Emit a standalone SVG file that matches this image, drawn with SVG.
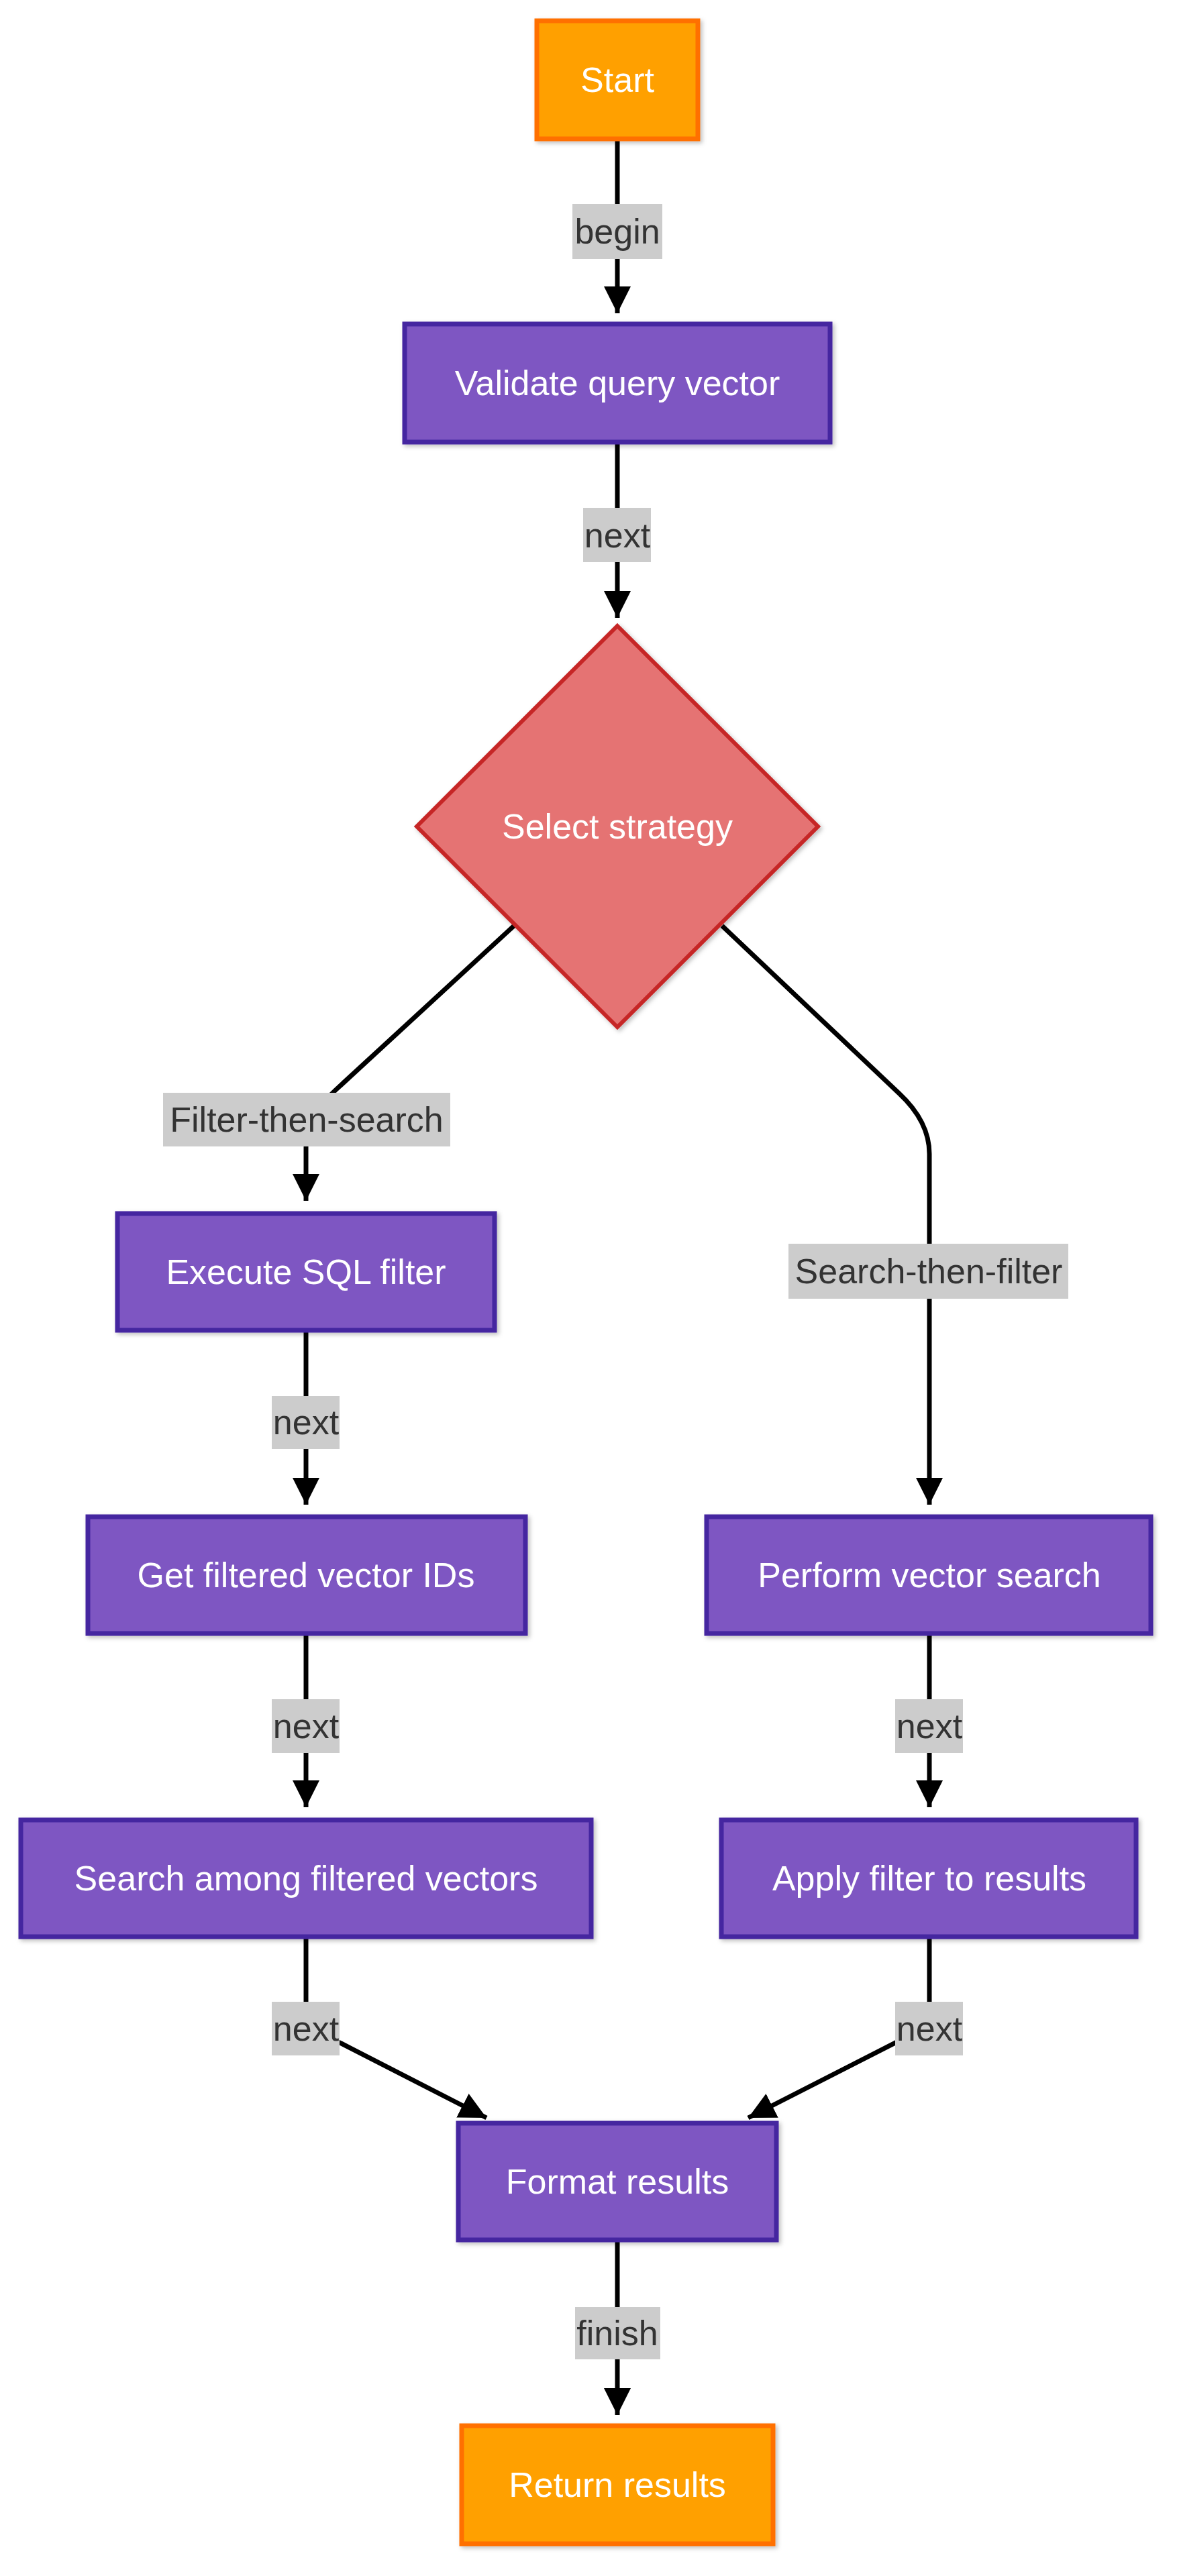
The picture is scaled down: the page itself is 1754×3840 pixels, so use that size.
<svg xmlns="http://www.w3.org/2000/svg" width="1754" height="3840" viewBox="0 0 1754 3840">
<defs>
<marker id="arr" viewBox="0 0 10 10" refX="10" refY="5" markerWidth="40" markerHeight="40" markerUnits="userSpaceOnUse" orient="auto"><path d="M0,0 L10,5 L0,10 z" fill="#000"/></marker>
<filter id="sh" x="-10%" y="-10%" width="130%" height="130%"><feDropShadow dx="3" dy="3" stdDeviation="3" flood-color="#000" flood-opacity="0.25"/></filter>
</defs>
<style>
.term{fill:#FFA000;stroke:#FF6F00;stroke-width:7;filter:url(#sh)}
.proc{fill:#7E57C2;stroke:#4527A0;stroke-width:7;filter:url(#sh)}
.dec{fill:#E57373;stroke:#C62828;stroke-width:6;filter:url(#sh)}
.nt{font-family:"Liberation Sans",Arial,sans-serif;font-size:52px;fill:#fff;text-anchor:middle;dominant-baseline:central}
.e{fill:none;stroke:#000;stroke-width:7;marker-end:url(#arr)}
.lb{fill:#CCCCCC}
.lt{font-family:"Liberation Sans",Arial,sans-serif;font-size:52px;fill:#333;text-anchor:middle;dominant-baseline:central}
</style>
<rect width="1754" height="3840" fill="#fff"/>
<g id="connectors">
<path class="e" d="M920,209 L920,467"/>
<path class="e" d="M920,661 L920,921"/>
<path class="e" d="M766,1380 L500,1625 Q456,1665 456,1710 L456,1790"/>
<path class="e" d="M1076,1380 L1340,1630 Q1385,1672 1385,1720 L1385,2243"/>
<path class="e" d="M456,1983 L456,2243"/>
<path class="e" d="M456,2436 L456,2694"/>
<path class="e" d="M1385,2436 L1385,2694"/>
<path class="e" d="M456,2889 L456,2995 Q456,3022 485,3034 L725,3157"/>
<path class="e" d="M1385,2889 L1385,2995 Q1385,3022 1356,3034 L1115,3157"/>
<path class="e" d="M920,3340 L920,3600"/>
<rect class="lb" x="853" y="304" width="134" height="82"/><text class="lt" x="920" y="345">begin</text>
<rect class="lb" x="869" y="757" width="101" height="81"/><text class="lt" x="920" y="798">next</text>
<rect class="lb" x="243" y="1629" width="428" height="80"/><text class="lt" x="457" y="1669">Filter-then-search</text>
<rect class="lb" x="1175" y="1854" width="417" height="82"/><text class="lt" x="1384" y="1895">Search-then-filter</text>
<rect class="lb" x="405" y="2081" width="101" height="79"/><text class="lt" x="456" y="2120">next</text>
<rect class="lb" x="405" y="2533" width="101" height="80"/><text class="lt" x="456" y="2573">next</text>
<rect class="lb" x="1334" y="2533" width="101" height="80"/><text class="lt" x="1385" y="2573">next</text>
<rect class="lb" x="405" y="2984" width="101" height="80"/><text class="lt" x="456" y="3024">next</text>
<rect class="lb" x="1334" y="2984" width="101" height="80"/><text class="lt" x="1385" y="3024">next</text>
<rect class="lb" x="857" y="3439" width="127" height="78"/><text class="lt" x="920" y="3478">finish</text>
</g>
<g id="start"><rect class="term" x="800" y="31" width="240" height="176"/><text class="nt" x="920" y="119">Start</text></g>
<g id="validate"><rect class="proc" x="603" y="483" width="634" height="176"/><text class="nt" x="920" y="571">Validate query vector</text></g>
<g id="strategy"><path class="dec" d="M920,933 L1219,1232 L920,1531 L621,1232 Z"/><text class="nt" x="920" y="1232">Select strategy</text></g>
<g id="sqlfilter"><rect class="proc" x="175" y="1809" width="562" height="174"/><text class="nt" x="456" y="1896">Execute SQL filter</text></g>
<g id="getids"><rect class="proc" x="131" y="2261" width="652" height="174"/><text class="nt" x="456" y="2348">Get filtered vector IDs</text></g>
<g id="searchamong"><rect class="proc" x="31" y="2713" width="850" height="174"/><text class="nt" x="456" y="2800">Search among filtered vectors</text></g>
<g id="vsearch"><rect class="proc" x="1053" y="2261" width="662" height="174"/><text class="nt" x="1385" y="2348">Perform vector search</text></g>
<g id="applyfilter"><rect class="proc" x="1075" y="2713" width="618" height="174"/><text class="nt" x="1385" y="2800">Apply filter to results</text></g>
<g id="format"><rect class="proc" x="683" y="3165" width="474" height="174"/><text class="nt" x="920" y="3252">Format results</text></g>
<g id="return"><rect class="term" x="688" y="3616" width="464" height="176"/><text class="nt" x="920" y="3704">Return results</text></g>
</svg>
